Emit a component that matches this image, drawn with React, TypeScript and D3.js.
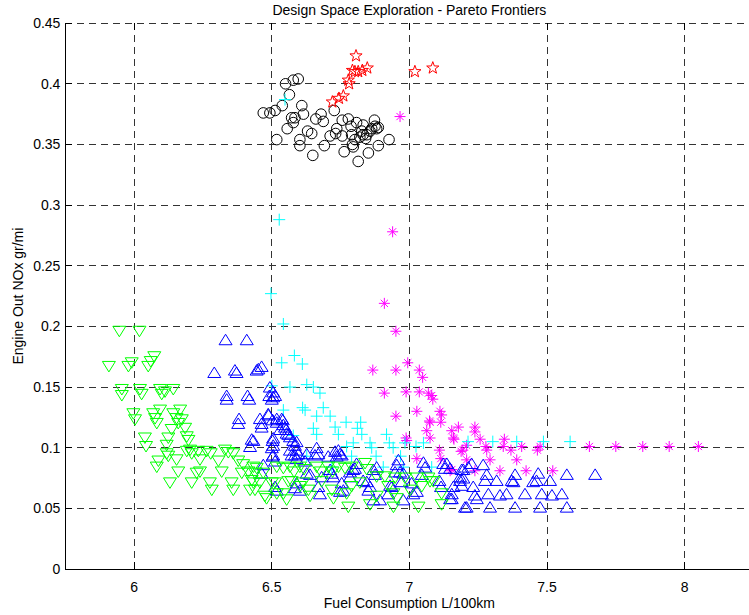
import React from "react";
import * as d3 from "d3";

const title = "Design Space Exploration - Pareto Frontiers";
const xLabel = "Fuel Consumption L/100km";
const yLabel = "Engine Out NOx gr/mi";
const xTicks = [6, 6.5, 7, 7.5, 8];
const xTickLabels = ["6", "6.5", "7", "7.5", "8"];
const yTicks = [0, 0.05, 0.1, 0.15, 0.2, 0.25, 0.3, 0.35, 0.4, 0.45];
const yTickLabels = ["0", "0.05", "0.1", "0.15", "0.2", "0.25", "0.3", "0.35", "0.4", "0.45"];

const circles: [number, number][] = [[6.469,0.376],[6.493,0.376],[6.512,0.378],[6.538,0.382],[6.550,0.400],[6.578,0.403],[6.596,0.404],[6.564,0.391],[6.609,0.382],[6.615,0.375],[6.572,0.372],[6.584,0.372],[6.578,0.368],[6.556,0.363],[6.518,0.354],[6.602,0.354],[6.602,0.349],[6.630,0.361],[6.645,0.359],[6.649,0.341],[6.660,0.371],[6.679,0.375],[6.687,0.369],[6.691,0.349],[6.727,0.378],[6.712,0.357],[6.736,0.363],[6.732,0.359],[6.756,0.357],[6.756,0.370],[6.778,0.371],[6.788,0.365],[6.763,0.344],[6.793,0.350],[6.802,0.354],[6.808,0.368],[6.814,0.336],[6.832,0.366],[6.827,0.361],[6.820,0.356],[6.832,0.358],[6.841,0.355],[6.845,0.358],[6.857,0.361],[6.863,0.363],[6.873,0.370],[6.875,0.365],[6.881,0.363],[6.887,0.364],[6.851,0.343],[6.887,0.349],[6.926,0.354],[6.796,0.348],[6.790,0.358]];

const stars: [number, number][] = [[6.806,0.423],[6.793,0.411],[6.802,0.410],[6.814,0.410],[6.829,0.411],[6.847,0.413],[6.778,0.403],[6.781,0.400],[6.760,0.390],[6.744,0.388],[6.720,0.385],[7.020,0.410],[7.085,0.413]];

const asterisks: [number, number][] = [[6.966,0.373],[6.939,0.278],[6.909,0.219],[6.951,0.196],[6.994,0.170],[6.867,0.164],[6.951,0.164],[7.036,0.164],[7.048,0.158],[6.909,0.145],[6.988,0.146],[7.036,0.146],[7.069,0.145],[7.081,0.143],[7.085,0.140],[6.951,0.126],[7.027,0.130],[7.073,0.122],[7.111,0.130],[7.117,0.127],[7.114,0.121],[7.063,0.114],[7.075,0.108],[6.988,0.108],[7.154,0.114],[7.178,0.117],[7.160,0.108],[7.194,0.098],[7.208,0.102],[7.109,0.098],[7.114,0.091],[7.027,0.091],[7.154,0.082],[7.208,0.090],[7.162,0.107],[7.238,0.117],[7.238,0.113],[7.257,0.107],[7.278,0.101],[7.281,0.098],[7.345,0.107],[7.341,0.101],[7.369,0.098],[7.408,0.101],[7.390,0.090],[7.293,0.090],[7.465,0.098],[7.475,0.101],[7.148,0.081],[7.238,0.081],[7.329,0.081],[7.424,0.081],[7.521,0.081],[7.654,0.101],[7.750,0.101],[7.848,0.101],[7.944,0.101],[8.050,0.101],[6.990,0.106],[7.075,0.121],[7.188,0.097]];

const pluses: [number, number][] = [[6.548,0.387],[6.527,0.288],[6.497,0.227],[6.542,0.202],[6.582,0.176],[6.536,0.170],[6.611,0.169],[6.566,0.150],[6.627,0.152],[6.651,0.150],[6.675,0.145],[6.542,0.131],[6.612,0.133],[6.621,0.131],[6.687,0.133],[6.712,0.126],[6.663,0.126],[6.651,0.116],[6.663,0.111],[6.730,0.117],[6.742,0.111],[6.770,0.121],[6.823,0.121],[6.811,0.116],[6.827,0.111],[6.578,0.110],[6.857,0.104],[6.863,0.100],[6.917,0.111],[6.927,0.104],[6.941,0.100],[6.796,0.104],[6.772,0.101],[6.627,0.093],[6.790,0.093],[6.879,0.093],[6.905,0.084],[6.968,0.093],[6.984,0.104],[7.024,0.101],[7.051,0.104],[7.081,0.084],[6.978,0.084],[6.718,0.084],[6.500,0.151],[7.213,0.105],[7.303,0.105],[7.390,0.105],[7.487,0.105],[7.584,0.105]];

const upTriangles: [number, number][] = [[6.332,0.189],[6.409,0.189],[6.291,0.162],[6.366,0.164],[6.372,0.162],[6.445,0.164],[6.451,0.165],[6.463,0.167],[6.336,0.143],[6.336,0.140],[6.412,0.143],[6.418,0.140],[6.493,0.150],[6.491,0.143],[6.500,0.140],[6.512,0.143],[6.381,0.124],[6.378,0.120],[6.457,0.124],[6.463,0.120],[6.463,0.117],[6.487,0.128],[6.503,0.123],[6.427,0.107],[6.421,0.101],[6.503,0.106],[6.500,0.100],[6.503,0.093],[6.469,0.086],[6.463,0.079],[6.512,0.068],[6.518,0.065],[6.505,0.146],[6.505,0.142],[6.518,0.124],[6.540,0.123],[6.542,0.119],[6.552,0.115],[6.530,0.115],[6.560,0.111],[6.505,0.108],[6.505,0.102],[6.578,0.106],[6.584,0.102],[6.590,0.098],[6.596,0.095],[6.566,0.098],[6.572,0.094],[6.663,0.100],[6.669,0.095],[6.730,0.097],[6.742,0.098],[6.748,0.095],[6.754,0.094],[6.736,0.093],[6.705,0.093],[6.627,0.095],[6.621,0.089],[6.505,0.094],[6.512,0.089],[6.808,0.087],[6.802,0.083],[6.712,0.082],[6.718,0.079],[6.627,0.079],[6.784,0.080],[6.869,0.082],[6.875,0.078],[6.960,0.090],[6.954,0.086],[7.051,0.088],[7.057,0.084],[7.123,0.087],[7.129,0.083],[7.190,0.082],[7.184,0.076],[6.978,0.079],[6.972,0.072],[6.845,0.072],[6.857,0.068],[6.754,0.071],[6.748,0.064],[6.675,0.062],[6.669,0.068],[6.590,0.071],[6.584,0.067],[6.930,0.069],[6.923,0.062],[7.008,0.071],[7.014,0.062],[7.154,0.062],[7.148,0.058],[7.202,0.051],[6.978,0.057],[6.784,0.076],[7.136,0.087],[7.148,0.083],[7.196,0.082],[7.226,0.087],[7.214,0.084],[7.268,0.086],[7.281,0.078],[7.275,0.073],[7.317,0.073],[7.184,0.073],[7.190,0.069],[7.160,0.068],[7.232,0.068],[7.238,0.061],[7.245,0.058],[7.372,0.073],[7.378,0.072],[7.384,0.078],[7.450,0.072],[7.462,0.073],[7.468,0.079],[7.511,0.073],[7.572,0.078],[7.675,0.078],[7.287,0.062],[7.329,0.061],[7.353,0.062],[7.420,0.062],[7.481,0.062],[7.518,0.061],[7.554,0.062],[7.154,0.058],[7.293,0.051],[7.384,0.051],[7.475,0.051],[7.572,0.051],[6.488,0.127],[6.518,0.121],[6.536,0.124],[6.548,0.117],[6.554,0.112],[6.566,0.109],[6.590,0.105],[6.433,0.106],[6.584,0.094],[6.590,0.091],[6.657,0.094],[6.639,0.078],[6.681,0.076],[6.602,0.065],[6.760,0.065],[6.832,0.073],[6.851,0.065],[6.881,0.084],[6.869,0.057],[6.893,0.057],[6.796,0.082],[6.724,0.076],[6.966,0.080],[6.948,0.080],[6.936,0.068],[7.045,0.078],[7.027,0.064],[7.109,0.073],[7.115,0.068],[7.196,0.075],[7.208,0.051]];

const downTriangles: [number, number][] = [[5.946,0.196],[6.019,0.196],[5.908,0.167],[5.979,0.167],[5.991,0.170],[6.051,0.167],[6.060,0.171],[6.073,0.175],[5.955,0.148],[5.955,0.143],[6.021,0.148],[6.027,0.144],[6.094,0.148],[6.100,0.144],[6.112,0.146],[6.142,0.148],[5.997,0.128],[6.003,0.123],[6.069,0.128],[6.076,0.124],[6.082,0.120],[6.094,0.131],[6.142,0.128],[6.154,0.124],[6.160,0.120],[6.167,0.131],[6.173,0.123],[6.185,0.116],[6.191,0.109],[6.197,0.106],[6.136,0.115],[6.124,0.108],[6.118,0.102],[6.039,0.108],[6.043,0.101],[6.118,0.095],[6.124,0.093],[6.088,0.089],[6.082,0.084],[6.154,0.090],[6.160,0.080],[6.130,0.071],[6.203,0.098],[6.209,0.095],[6.191,0.097],[6.233,0.097],[6.239,0.090],[6.239,0.080],[6.227,0.079],[6.209,0.071],[6.263,0.097],[6.278,0.095],[6.306,0.089],[6.318,0.080],[6.330,0.098],[6.342,0.096],[6.360,0.095],[6.378,0.089],[6.391,0.079],[6.396,0.086],[6.415,0.080],[6.433,0.084],[6.439,0.079],[6.469,0.079],[6.275,0.071],[6.282,0.065],[6.354,0.071],[6.360,0.065],[6.433,0.071],[6.439,0.065],[6.481,0.058],[6.512,0.071],[6.518,0.062],[6.554,0.057],[6.518,0.084],[6.542,0.083],[6.566,0.084],[6.581,0.080],[6.602,0.084],[6.617,0.082],[6.663,0.084],[6.678,0.080],[6.705,0.084],[6.721,0.080],[6.742,0.084],[6.766,0.083],[6.790,0.084],[6.839,0.087],[6.845,0.082],[6.881,0.076],[6.911,0.076],[6.948,0.075],[6.984,0.075],[7.027,0.075],[7.069,0.075],[7.087,0.072],[6.500,0.071],[6.542,0.062],[6.560,0.072],[6.614,0.071],[6.633,0.065],[6.681,0.072],[6.718,0.065],[6.724,0.058],[6.772,0.062],[6.790,0.068],[6.820,0.071],[6.857,0.053],[6.881,0.060],[6.923,0.068],[6.954,0.058],[7.002,0.065],[7.045,0.068],[7.075,0.072],[7.117,0.053],[6.778,0.051],[6.445,0.083],[6.427,0.073],[6.457,0.071],[6.421,0.065],[6.475,0.060],[6.572,0.072],[6.602,0.068],[6.639,0.060],[6.942,0.051],[7.033,0.051],[7.117,0.062],[6.942,0.062]];

const W = 749;
const H = 615;
const x = d3.scaleLinear().domain([5.75, 8.25]).range([65.4, 753.4]);
const y = d3.scaleLinear().domain([0, 0.45]).range([569, 23.15]);

const circlePath = "M5.3,0A5.3,5.3 0 1,1 -5.3,0A5.3,5.3 0 1,1 5.3,0Z";
const upTri = "M0,-5.5L6.5,5L-6.5,5Z";
const downTri = "M0,5.5L6.5,-5L-6.5,-5Z";
const plusPath = "M-6,0H6M0,-6V6";
const astPath = "M-5.5,0H5.5M0,-5.5V5.5M-3.6,-3.6L3.6,3.6M-3.6,3.6L3.6,-3.6";
const starPath = (() => {
  const pts: string[] = [];
  for (let i = 0; i < 10; i++) {
    const r = i % 2 === 0 ? 6.4 : 2.6;
    const a = -Math.PI / 2 + (i * Math.PI) / 5;
    pts.push(`${(r * Math.cos(a)).toFixed(2)},${(r * Math.sin(a)).toFixed(2)}`);
  }
  return "M" + pts.join("L") + "Z";
})();

const font = "'Liberation Sans', Arial, Helvetica, sans-serif";

function Series({ data, path, color }: { data: [number, number][]; path: string; color: string }) {
  return (
    <g fill="none" stroke={color} strokeWidth={1}>
      {data.map((d, i) => (
        <path key={i} d={path} transform={`translate(${x(d[0])},${y(d[1])})`} />
      ))}
    </g>
  );
}

export default function App() {
  const [x0, x1] = x.range();
  const yb = y(0);
  const yt = y(0.45);
  return (
    <div style={{ position: "absolute", left: 0, top: 0 }}>
      <svg width={W} height={H} style={{ display: "block", background: "#fff" }}>
        <rect x={0} y={0} width={W} height={H} fill="#fff" />
        <defs>
          <clipPath id="plot">
            <rect x={x0} y={yt - 6} width={x1 - x0} height={yb - yt + 12} />
          </clipPath>
        </defs>
        <g stroke="#333" strokeWidth={1} strokeDasharray="7,5" shapeRendering="crispEdges">
          {yTicks.slice(1).map((t) => (
            <line key={"gy" + t} x1={x0} x2={x1} y1={y(t)} y2={y(t)} />
          ))}
          {xTicks.map((t) => (
            <line key={"gx" + t} x1={x(t)} x2={x(t)} y1={yt} y2={yb} />
          ))}
        </g>
        <g stroke="#000" strokeWidth={1} shapeRendering="crispEdges">
          {xTicks.map((t) => (
            <g key={"tx" + t}>
              <line x1={x(t)} x2={x(t)} y1={yb} y2={yb - 7} />
              <line x1={x(t)} x2={x(t)} y1={yt} y2={yt + 7} />
            </g>
          ))}
          {yTicks.map((t) => (
            <line key={"ty" + t} x1={x0} x2={x0 + 7} y1={y(t)} y2={y(t)} />
          ))}
          <line x1={x0} x2={x0} y1={yt} y2={yb} />
          <line x1={x0} x2={x1} y1={yb} y2={yb} />
        </g>
        <g clipPath="url(#plot)">
          <Series data={circles} path={circlePath} color="#000000" />
          <Series data={stars} path={starPath} color="#ff0000" />
          <Series data={asterisks} path={astPath} color="#ff00ff" />
          <Series data={pluses} path={plusPath} color="#00ffff" />
          <Series data={upTriangles} path={upTri} color="#0000ff" />
          <Series data={downTriangles} path={downTri} color="#00ff00" />
        </g>
        <g fontFamily={font} fontSize={14} fill="#000">
          {xTicks.map((t, i) => (
            <text key={"lx" + t} x={x(t)} y={yb + 23} textAnchor="middle">
              {xTickLabels[i]}
            </text>
          ))}
          {yTicks.map((t, i) => (
            <text key={"ly" + t} x={x0 - 5} y={y(t) + 5} textAnchor="end">
              {yTickLabels[i]}
            </text>
          ))}
          <text x={(x0 + x1) / 2} y={yb + 39} textAnchor="middle">
            {xLabel}
          </text>
          <text transform={`translate(23,${(yt + yb) / 2}) rotate(-90)`} textAnchor="middle">
            {yLabel}
          </text>
          <text x={(x0 + x1) / 2} y={15} textAnchor="middle">
            {title}
          </text>
        </g>
      </svg>
    </div>
  );
}
